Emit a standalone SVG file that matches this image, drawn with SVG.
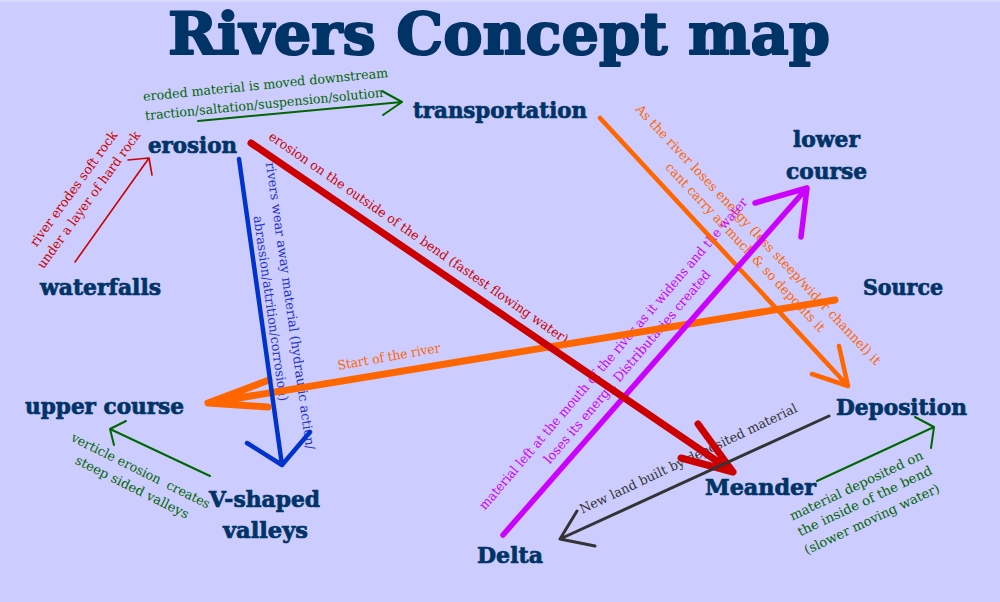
<svg xmlns="http://www.w3.org/2000/svg" width="1000" height="602" viewBox="0 0 1000 602">
<defs>
<style>
.node{font-family:"DejaVu Serif","Liberation Serif",serif;font-weight:bold;font-size:22.5px;fill:#003366;stroke:#003366;stroke-width:0.7px}
.lbl{font-family:"DejaVu Serif","Liberation Serif",serif;font-size:13px;text-anchor:middle}
.c{fill:none;stroke-linecap:round;stroke-linejoin:round}
.green{stroke:#006600;stroke-width:2}
.redthin{stroke:#cc0000;stroke-width:1.6}
.redthick{stroke:#cc0000;stroke-width:7}
.blue{stroke:#0033cc;stroke-width:4.5}
.orange1{stroke:#ff6600;stroke-width:7}
.orange2{stroke:#ff6600;stroke-width:4.5}
.mag{stroke:#cc00ff;stroke-width:5.5}
.gray{stroke:#333333;stroke-width:3}
</style>
</defs>
<rect x="0" y="0" width="1000" height="602" fill="#ccccff"/>
<rect x="0" y="0" width="1000" height="2" fill="#dadaff"/>
<text x="168" y="54" font-family="'DejaVu Serif',serif" font-weight="bold" font-size="57" fill="#003366" stroke="#003366" stroke-width="2" stroke-linejoin="round" textLength="662" lengthAdjust="spacingAndGlyphs">Rivers Concept map</text>

<g id="connectors">
  <g id="labels">
    <text class="lbl" fill="#006600" transform="translate(265.5,85) rotate(-5.6)" y="4" textLength="246" lengthAdjust="spacingAndGlyphs">eroded material is moved downstream</text>
    <text class="lbl" fill="#006600" transform="translate(264,104.5) rotate(-5.6)" y="4" textLength="239" lengthAdjust="spacingAndGlyphs">traction/saltation/suspension/solution</text>
    <text class="lbl" fill="#cc0000" transform="translate(74,189) rotate(-54)" y="4" textLength="139" lengthAdjust="spacingAndGlyphs">river erodes soft rock</text>
    <text class="lbl" fill="#cc0000" transform="translate(89,200) rotate(-54)" y="4" textLength="166" lengthAdjust="spacingAndGlyphs">under a layer of hard rock</text>
    <text class="lbl" fill="#2233cc" transform="translate(290,306) rotate(82)" y="4" textLength="290" lengthAdjust="spacingAndGlyphs">rivers wear away material (hydraulic action/</text>
    <text class="lbl" fill="#2233cc" transform="translate(270.5,308.5) rotate(82)" y="4" textLength="187" lengthAdjust="spacingAndGlyphs">abrassion/attrition/corrosion)</text>
    <text class="lbl" fill="#cc0000" transform="translate(420,239) rotate(34.7)" y="4" textLength="365" lengthAdjust="spacingAndGlyphs">erosion on the outside of the bend (fastest flowing water).</text>
    <text class="lbl" fill="#ff6600" transform="translate(389,357) rotate(-10)" y="4" textLength="104" lengthAdjust="spacingAndGlyphs">Start of the river</text>
    <text class="lbl" fill="#ff6600" transform="translate(758,235) rotate(46.8)" y="4" textLength="351" lengthAdjust="spacingAndGlyphs">As the river loses energy (less steep/wider channel) it</text>
    <text class="lbl" fill="#ff6600" transform="translate(745,247.5) rotate(46.8)" y="4" textLength="226" lengthAdjust="spacingAndGlyphs">cant carry as much &amp; so deposits it</text>
    <text class="lbl" fill="#cc00ff" transform="translate(613.5,354) rotate(-49.5)" y="4" textLength="405" lengthAdjust="spacingAndGlyphs">material left at the mouth of the river as it widens and the water</text>
    <text class="lbl" fill="#cc00ff" transform="translate(627.5,367) rotate(-49.6)" y="4" textLength="249" lengthAdjust="spacingAndGlyphs">loses its energy. Distributaries created</text>
    <text class="lbl" fill="#333333" transform="translate(688.5,459) rotate(-25.4)" y="4" textLength="239" lengthAdjust="spacingAndGlyphs">New land built by deposited material</text>
    <text class="lbl" fill="#006600" transform="translate(856.5,486) rotate(-25.3)" y="4" textLength="146" lengthAdjust="spacingAndGlyphs">material deposited on</text>
    <text class="lbl" fill="#006600" transform="translate(865,501.5) rotate(-25.3)" y="4" textLength="147" lengthAdjust="spacingAndGlyphs">the inside of the bend</text>
    <text class="lbl" fill="#006600" transform="translate(872,519.5) rotate(-25.3)" y="4" textLength="148" lengthAdjust="spacingAndGlyphs">(slower moving water)</text>
    <text class="lbl" fill="#006600" transform="translate(140.5,471) rotate(26.4)" y="4" textLength="153" lengthAdjust="spacingAndGlyphs" style="white-space:pre">verticle erosion  creates</text>
    <text class="lbl" fill="#006600" transform="translate(132,487.5) rotate(26.4)" y="4" textLength="125" lengthAdjust="spacingAndGlyphs">steep sided valleys</text>
  </g>
  <g id="lines">
    <g id="e-transport"><path class="c green" d="M198,121 L402,102 M382,91 L402,102 L383,115"/></g>
    <g id="e-waterfalls"><path class="c redthin" d="M75,262 L149,158 M128,160 L149,158 L152,175"/></g>
    <g id="e-source"><path class="c orange1" d="M835,300 L208,403 M269,380 L208,403 L268,407"/></g>
    <g id="e-transport-dep"><path class="c orange2" d="M600,118 L848,386 M839,346 L848,386 L812,374"/></g>
    <g id="e-delta"><path class="c mag" d="M503,535 L807,188 M755,203 L807,188 L801,237"/></g>
    <g id="e-vshaped"><path class="c blue" d="M239,159 L282,465 M247,443 L282,465 L310,432"/></g>
    <g id="e-meander"><path class="c redthick" d="M251,143 L733,472 M698,424 L733,472 L681,458"/></g>
    <g id="e-dep-delta"><path class="c gray" d="M829,416 L560,539 M577,511 L560,539 L595,546"/></g>
    <g id="e-meander-dep"><path class="c green" d="M817,481 L934,427 M915,417 L934,427 L931,448"/></g>
    <g id="e-v-upper"><path class="c green" d="M210,476 L110,429 M126,421 L110,429 L114,445"/></g>
  </g>
</g>

<g id="erosion"><text class="node" x="148" y="153" textLength="89" lengthAdjust="spacingAndGlyphs">erosion</text></g>
<g id="transportation"><text class="node" x="413" y="118" textLength="174" lengthAdjust="spacingAndGlyphs">transportation</text></g>
<g id="waterfalls"><text class="node" x="40" y="295" textLength="121" lengthAdjust="spacingAndGlyphs">waterfalls</text></g>
<g id="lower-course"><text class="node" x="793" y="147" textLength="67" lengthAdjust="spacingAndGlyphs">lower</text><text class="node" x="786" y="179" textLength="81" lengthAdjust="spacingAndGlyphs">course</text></g>
<g id="source"><text class="node" x="863" y="295" textLength="80" lengthAdjust="spacingAndGlyphs">Source</text></g>
<g id="upper-course"><text class="node" x="25" y="414" textLength="159" lengthAdjust="spacingAndGlyphs">upper course</text></g>
<g id="deposition"><text class="node" x="836" y="415" textLength="131" lengthAdjust="spacingAndGlyphs">Deposition</text></g>
<g id="v-shaped-valleys"><text class="node" x="209" y="507" textLength="111" lengthAdjust="spacingAndGlyphs">V-shaped</text><text class="node" x="223" y="538" textLength="85" lengthAdjust="spacingAndGlyphs">valleys</text></g>
<g id="meander"><text class="node" x="705" y="495" textLength="111" lengthAdjust="spacingAndGlyphs">Meander</text></g>
<g id="delta"><text class="node" x="477" y="563" textLength="66" lengthAdjust="spacingAndGlyphs">Delta</text></g>
</svg>
